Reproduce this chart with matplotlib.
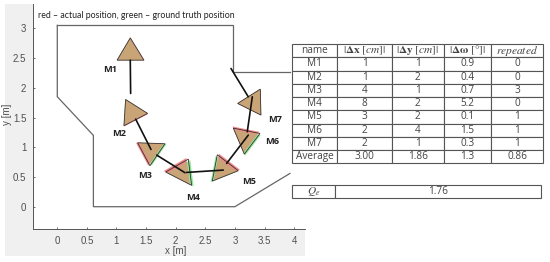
import numpy as np
import matplotlib
matplotlib.use("Agg")
import matplotlib.pyplot as plt
from matplotlib.patches import Polygon, Rectangle

W, H = 550, 262

# walls of the room [m]
wall_upper_x = [0, 2.96, 2.96, 3.93]
wall_upper_y = [3.05, 3.05, 2.26, 2.26]
wall_lower_x = [0, 0, 0.61, 0.61, 3.0, 3.93]
wall_lower_y = [3.05, 1.85, 1.2, 0, 0, 0.56]

names = ["M1", "M2", "M3", "M4", "M5", "M6", "M7"]
# triangle corners [m]
tri_x = [[1.233, 1.01, 1.464], [1.154, 1.526, 1.126], [1.357, 1.819, 1.565],
         [1.83, 2.213, 2.269], [2.703, 3.057, 2.618], [2.973, 3.423, 3.159],
         [3.046, 3.429, 3.44]]
tri_y = [[2.84, 2.465, 2.465], [1.804, 1.569, 1.361], [1.076, 1.059, 0.689],
         [0.583, 0.801, 0.359], [0.874, 0.605, 0.431], [1.322, 1.232, 0.885],
         [1.737, 1.978, 1.541]]
# half shift between actual and ground truth [m]
shift_x = [0.005, 0.006, -0.028, -0.034, 0.028, -0.012, 0.003]
shift_y = [0.0, -0.009, 0.0, 0.018, 0.018, 0.028, 0.0]
label_x = [0.89, 1.04, 1.48, 2.30, 3.24, 3.63, 3.68]
label_y = [2.30, 1.23, 0.52, 0.16, 0.43, 1.09, 1.46]

# path between the markers [m]
path_x = [[1.233, 1.239], [1.324, 1.583], [1.68, 2.158], [2.185, 2.804],
          [2.86, 3.226], [3.209, 3.294], [3.226, 2.934]]
path_y = [[2.465, 1.905], [1.473, 0.963], [0.868, 0.571], [0.577, 0.616],
          [0.728, 1.204], [1.261, 1.849], [1.849, 2.325]]

x_ticks = [0, 0.5, 1, 1.5, 2, 2.5, 3, 3.5, 4]
y_ticks = [0, 0.5, 1, 1.5, 2, 2.5, 3]
tick_labels_x = ["0", "0.5", "1", "1.5", "2", "2.5", "3", "3.5", "4"]
tick_labels_y = ["0", "0.5", "1", "1.5", "2", "2.5", "3"]

col_header = ["name", r"$|\mathbf{\Delta x}\ [cm]|$", r"$|\mathbf{\Delta y}\ [cm]|$",
              r"$|\mathbf{\Delta\omega}\ [\degree]|$", r"$repeated$"]
col_name = names + ["Average"]
col_dx = ["1", "1", "4", "8", "3", "2", "2", "3.00"]
col_dy = ["1", "2", "1", "2", "2", "4", "1", "1.86"]
col_dw = ["0.9", "0.4", "0.7", "5.2", "0.1", "1.5", "0.3", "1.3"]
col_rep = ["0", "0", "3", "0", "1", "1", "1", "0.86"]
q_row = [r"$Q_e$", "1.76"]


def px_axes(fig, x0, y0, x1, y1):
    # pixel box, y counted from the top
    return fig.add_axes([x0 / W, 1 - y1 / H, (x1 - x0) / W, (y1 - y0) / H])


def main():
    plt.rcParams["font.family"] = ["Open Sans", "DejaVu Sans"]
    plt.rcParams["mathtext.fontset"] = "stix"
    fig = plt.figure(figsize=(W / 100, H / 100), dpi=100)
    fig.patch.set_facecolor("white")
    fig.add_artist(Rectangle((5 / W, 1 - 256 / H), 300 / W, 252 / H,
                             transform=fig.transFigure, fc="#f0f0f0", ec="none", zorder=-1))

    ax = px_axes(fig, 33.3, 4, 305, 228.7)
    ax.set_xlim(-0.405, 4.184)
    ax.set_ylim(-0.37, 3.41)
    ax.spines["top"].set_visible(False)
    ax.spines["right"].set_visible(False)
    ax.spines["left"].set_color("#555555")
    ax.spines["bottom"].set_color("#555555")
    ax.spines["left"].set_linewidth(0.7)
    ax.spines["bottom"].set_linewidth(0.7)
    ax.set_xticks(x_ticks)
    ax.set_xticklabels(tick_labels_x)
    ax.set_yticks(y_ticks)
    ax.set_yticklabels(tick_labels_y)
    ax.tick_params(direction="in", length=1.5, width=0.6, color="#555555",
                   labelsize=7, labelcolor="#505050", pad=5)
    for lab in ax.get_xticklabels() + ax.get_yticklabels():
        lab.set_family("Liberation Sans")
    ax.set_xlabel("x [m]", fontsize=7, color="#505050", family="Liberation Sans")
    ax.set_ylabel("y [m]", fontsize=7, color="#505050", family="Liberation Sans")
    ax.xaxis.set_label_coords((176 - 33.3) / 271.7, -(246.5 - 228.7) / 224.7)
    ax.yaxis.set_label_coords(-(33.3 - 12) / 271.7, (118 - 4) / 224.7)

    ax.plot(wall_upper_x, wall_upper_y, color="#666666", lw=0.9, solid_joinstyle="miter")
    ax.plot(wall_lower_x, wall_lower_y, color="#666666", lw=0.9, solid_joinstyle="miter")

    ax.text(-0.33, 3.21, "red \u2013 actual position, green \u2013 ground truth position",
            fontsize=6.3, color="#222222", va="center", family="Lato")

    for i, name in enumerate(names):
        corners = np.column_stack([tri_x[i], tri_y[i]])
        off = np.array([shift_x[i], shift_y[i]])
        red = Polygon(corners + off, closed=True, fc="#f08a8a", ec="none", zorder=2)
        green = Polygon(corners - off, closed=True, fc="#8fe89a", ec="none", zorder=2)
        ax.add_patch(green)
        ax.add_patch(red)
        both = Polygon(corners - off, closed=True, fc="#c9a477", ec="none", zorder=3)
        ax.add_patch(both)
        both.set_clip_path(red)
        ax.add_patch(Polygon(corners, closed=True, fc="none", ec="#3a3030", lw=0.6, zorder=4))
        ax.text(label_x[i], label_y[i], name, fontsize=6.6, fontweight="bold",
                ha="center", va="center", color="#222222", zorder=6)

    for xs, ys in zip(path_x, path_y):
        ax.plot(xs, ys, color="#111111", lw=1.2, zorder=5, solid_capstyle="round")

    # main table
    ta = px_axes(fig, 291.7, 44, 543.3, 163.3)
    ta.axis("off")
    rows = [list(r) for r in zip(col_name, col_dx, col_dy, col_dw, col_rep)]
    col_edges = np.array([291.7, 337.3, 391.7, 443.7, 490.7, 543.3])
    widths = np.diff(col_edges) / (col_edges[-1] - col_edges[0])
    tb = ta.table(cellText=rows, colLabels=col_header, colWidths=list(widths),
                  cellLoc="center", bbox=[0, 0, 1, 1])
    tb.auto_set_font_size(False)
    for (r, c), cell in tb.get_celld().items():
        cell.set_edgecolor("#555555")
        cell.set_linewidth(0.8)
        # math headers look small next to the plain rows
        cell.get_text().set_fontsize(8.2 if r == 0 and c > 0 else 7.2)
        cell.get_text().set_color("#444444")
        cell.PAD = 0.02

    # quality row
    tq = px_axes(fig, 291.7, 185.3, 541, 198.3)
    tq.axis("off")
    tq_w = (335.3 - 291.7) / (541 - 291.7)
    tb2 = tq.table(cellText=[q_row], colWidths=[tq_w, 1 - tq_w], cellLoc="center", bbox=[0, 0, 1, 1])
    tb2.auto_set_font_size(False)
    for (r, c), cell in tb2.get_celld().items():
        cell.set_edgecolor("#555555")
        cell.set_linewidth(0.8)
        cell.get_text().set_fontsize(8.2 if c == 0 else 7.2)
        cell.get_text().set_color("#444444")

    fig.savefig("out.png", dpi=100)


if __name__ == "__main__":
    main()
